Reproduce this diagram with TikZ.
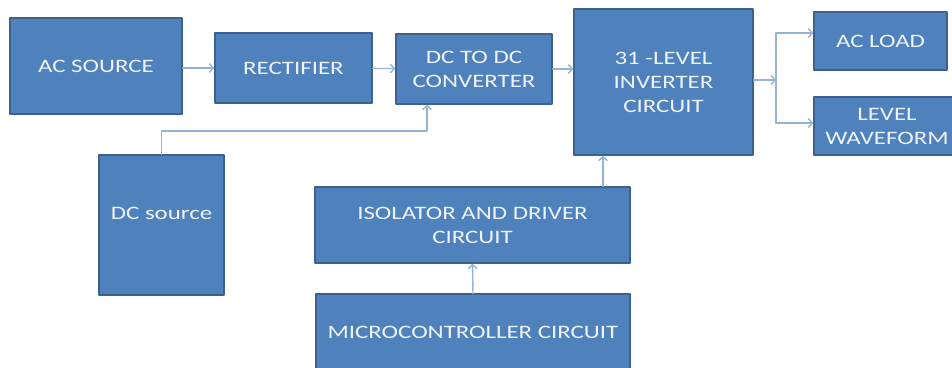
\documentclass[tikz,border=0pt]{standalone}
\usepackage{fontspec}
\setmainfont{Carlito}[FakeStretch=1.31]
\usetikzlibrary{arrows.meta}
\definecolor{boxblue}{HTML}{4F81BD}
\definecolor{boxedge}{HTML}{3A6190}
\definecolor{wire}{HTML}{95B3D7}
\definecolor{boxtext}{HTML}{EEF3F9}
\tikzset{blk/.style={draw=boxedge, line width=1.5bp, fill=boxblue, text=boxtext,
    inner sep=0pt, align=center},
  wr/.style={draw=wire, line width=1.4bp}}
\begin{document}
\begin{tikzpicture}[x=1bp, y=-1bp, line join=round, line cap=round,
  >={Straight Barb[length=4bp, width=9bp]},
  font=\fontsize{19bp}{24bp}\selectfont]
\useasboundingbox (0,0) rectangle (952,367);
\clip (0,0) rectangle (952,367);
\foreach \n/\p/\w/\h/\t in {acsrc/{96,66}/172/96/{AC SOURCE},
  rect/{293.5,68}/157/70/{RECTIFIER},
  dcdc/{474,69}/156/70/{DC TO DC\\CONVERTER},
  inv/{663.5,82}/179/146/{31 -LEVEL\\INVERTER\\CIRCUIT},
  acload/{880.5,41}/133/58/{AC LOAD},
  lvl/{887,126}/146/58/{LEVEL\\WAVEFORM},
  iso/{472.5,225}/315/76/{ISOLATOR AND DRIVER\\CIRCUIT},
  micro/{473,332}/314/76/{MICROCONTROLLER CIRCUIT}}
\node[blk, minimum width=\w bp, minimum height=\h bp] (\n) at (\p) {\t};
\node[blk, minimum width=125bp, minimum height=140bp] (dcsrc) at (161.5,225) {};
\node[text=boxtext] (dcsrclbl) at (161.5,213) {DC source};
% connectors
\draw[wr,->] (acsrc.east |- rect) -- (rect);
\draw[wr,->] (rect) -- (dcdc);
\draw[wr,->] (dcdc) -- (dcdc -| inv.west);
\coordinate (jn) at (776,80);
\coordinate (jtop) at (776,33);
\coordinate (jbot) at (776,123);
\draw[wr,->] (inv.east |- jn) -- (jn);
\draw[wr] (jtop) -- (jbot);
\draw[wr,->] (jtop) -- (jtop -| acload.west);
\draw[wr,->] (jbot) -- (jbot -| lvl.west);
\draw[wr,->] (dcsrc.north) |- (427,131) -- (dcdc.south -| 427,0);
\draw[wr,->] (iso.north -| 603,0) -- (inv.south -| 603,0);
\draw[wr,->] (micro) ++(0,-38) -- (iso.south);
\end{tikzpicture}
\end{document}
